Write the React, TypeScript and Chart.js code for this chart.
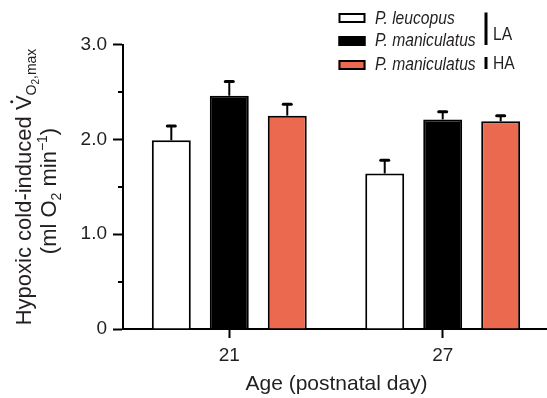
import React, { useEffect, useRef } from 'react';
import { Chart, registerables } from 'chart.js';

Chart.register(...registerables);

// ---- Data ----
const ages = ['21', '27'];
const seriesLabels = ['P. leucopus', 'P. maniculatus', 'P. maniculatus'];
const leucopusLA = [1.99, 1.64];
const maniculatusLA = [2.46, 2.21];
const maniculatusHA = [2.25, 2.19];
const leucopusLAErr = [0.15, 0.14];
const maniculatusLAErr = [0.15, 0.08];
const maniculatusHAErr = [0.12, 0.06];
const yMajorTicks = [0, 1, 2, 3];
const yMinorTicks = [0.5, 1.5, 2.5];

const seriesValues = [leucopusLA, maniculatusLA, maniculatusHA];
const seriesErrors = [leucopusLAErr, maniculatusLAErr, maniculatusHAErr];
const seriesFill = ['#ffffff', '#000000', '#EB6A4F'];

const FONT = '"Liberation Sans", Arial, Helvetica, sans-serif';
const TEXT = '#231F20';

type Piece = { t: string; size: number; dy: number; italic?: boolean; dot?: boolean };

function pieceFont(p: Piece) {
  return `${p.italic ? 'italic ' : ''}${p.size}px ${FONT}`;
}

function drawPieces(ctx: CanvasRenderingContext2D, pieces: Piece[], cx: number, by: number) {
  const widths = pieces.map((p) => {
    ctx.font = pieceFont(p);
    return ctx.measureText(p.t).width;
  });
  const total = widths.reduce((a, b) => a + b, 0);
  let x = cx - total / 2;
  pieces.forEach((p, i) => {
    ctx.font = pieceFont(p);
    ctx.fillText(p.t, x, by + p.dy);
    if (p.dot) {
      ctx.beginPath();
      ctx.arc(x + widths[i] / 2 + 1, by + p.dy - p.size * 0.716 - 3.5, 1.5, 0, Math.PI * 2);
      ctx.fill();
    }
    x += widths[i];
  });
}

const extras = {
  id: 'extras',
  afterDatasetsDraw(chart: any) {
    const { ctx } = chart;
    const y = chart.scales.y;
    ctx.save();
    ctx.strokeStyle = '#000';
    seriesValues.forEach((vals, di) => {
      const meta = chart.getDatasetMeta(di);
      meta.data.forEach((bar: any, i: number) => {
        const v = vals[i];
        const e = seriesErrors[di][i];
        const yBar = y.getPixelForValue(v);
        const yTop = y.getPixelForValue(v + e);
        ctx.lineWidth = 2;
        ctx.lineCap = 'butt';
        ctx.beginPath();
        ctx.moveTo(bar.x, yBar);
        ctx.lineTo(bar.x, yTop);
        ctx.stroke();
        ctx.lineWidth = 3;
        ctx.lineCap = 'round';
        ctx.beginPath();
        ctx.moveTo(bar.x - 4, yTop);
        ctx.lineTo(bar.x + 4, yTop);
        ctx.stroke();
      });
    });
    ctx.restore();
  },
  afterDraw(chart: any) {
    const { ctx, chartArea } = chart;
    const y = chart.scales.y;
    ctx.save();
    // minor y ticks
    ctx.strokeStyle = '#000';
    ctx.lineWidth = 2;
    yMinorTicks.forEach((v) => {
      const py = Math.round(y.getPixelForValue(v));
      ctx.beginPath();
      ctx.moveTo(chartArea.left - 5, py);
      ctx.lineTo(chartArea.left, py);
      ctx.stroke();
    });

    // x title
    ctx.fillStyle = TEXT;
    ctx.textBaseline = 'alphabetic';
    ctx.textAlign = 'left';
    drawPieces(ctx, [{ t: 'Age (postnatal day)', size: 21, dy: 0 }], 336.5, 390);

    // y title (rotated)
    ctx.save();
    ctx.translate(31, 187);
    ctx.rotate(-Math.PI / 2);
    drawPieces(
      ctx,
      [
        { t: 'Hypoxic cold-induced ', size: 22, dy: 0 },
        { t: 'V', size: 22, dy: 0, dot: true },
        { t: 'O', size: 14, dy: 5 },
        { t: '2', size: 10, dy: 8 },
        { t: ',max', size: 14, dy: 5 },
      ],
      0,
      0
    );
    ctx.restore();
    ctx.save();
    ctx.translate(55.5, 191);
    ctx.rotate(-Math.PI / 2);
    drawPieces(
      ctx,
      [
        { t: '(ml O', size: 22, dy: 0 },
        { t: '2', size: 14, dy: 5 },
        { t: ' min', size: 22, dy: 0 },
        { t: '\u22121', size: 14, dy: -9 },
        { t: ')', size: 22, dy: 0 },
      ],
      0,
      0
    );
    ctx.restore();

    // legend
    const boxTops = [13, 36, 60];
    const baselines = [23.5, 45.5, 69.5];
    seriesLabels.forEach((lab, i) => {
      ctx.fillStyle = seriesFill[i];
      ctx.fillRect(338.5, boxTops[i], 27, 10);
      ctx.strokeStyle = '#000';
      ctx.lineWidth = 2;
      ctx.strokeRect(339.5, boxTops[i] + 1, 25, 8);
      ctx.fillStyle = TEXT;
      ctx.save();
      ctx.translate(375, baselines[i]);
      ctx.scale(0.87, 1);
      ctx.font = `italic 18px ${FONT}`;
      ctx.fillText(lab, 0, 0);
      ctx.restore();
    });
    ctx.strokeStyle = '#000';
    ctx.lineWidth = 3;
    ctx.lineCap = 'butt';
    ctx.beginPath();
    ctx.moveTo(486, 12.5);
    ctx.lineTo(486, 45);
    ctx.moveTo(486, 57);
    ctx.lineTo(486, 69);
    ctx.stroke();
    ctx.fillStyle = TEXT;
    [['LA', 40], ['HA', 68.5]].forEach(([t, by]) => {
      ctx.save();
      ctx.translate(493, by as number);
      ctx.scale(0.87, 1);
      ctx.font = `18px ${FONT}`;
      ctx.fillText(t as string, 0, 0);
      ctx.restore();
    });
    ctx.restore();
  },
};

export default function App() {
  const ref = useRef<HTMLCanvasElement>(null);
  useEffect(() => {
    if (!ref.current) return;
    const chart = new Chart(ref.current, {
      type: 'bar',
      data: {
        datasets: seriesValues.map((vals, di) => ({
          label: seriesLabels[di],
          data: vals.map((v, i) => ({ x: i, y: v })),
          backgroundColor: seriesFill[di],
          borderColor: '#000',
          borderWidth: 2,
          categoryPercentage: 0.815,
          barPercentage: 0.672,
        })),
      } as any,
      options: {
        animation: false,
        responsive: true,
        maintainAspectRatio: false,
        layout: { padding: { top: 44.5, right: 1, left: 0, bottom: 0 } },
        plugins: { legend: { display: false }, tooltip: { enabled: false } },
        scales: {
          x: {
            type: 'linear',
            offset: false,
            min: -0.498,
            max: 1.484,
            afterBuildTicks: (s: any) => {
              s.ticks = ages.map((_, i) => ({ value: i }));
            },
            afterFit: (s: any) => {
              s.height = 69;
            },
            ticks: {
              callback: (_v: any, i: number) => ages[i],
              font: { family: FONT, size: 19 },
              color: TEXT,
              padding: 6,
              maxRotation: 0,
            },
            grid: {
              display: true,
              offset: false,
              drawOnChartArea: false,
              drawTicks: true,
              tickLength: 9,
              tickWidth: 2,
              tickColor: '#000',
            },
            border: { display: true, color: '#000', width: 2 },
          },
          y: {
            type: 'linear',
            min: 0,
            max: 3,
            afterBuildTicks: (s: any) => {
              s.ticks = yMajorTicks.map((v) => ({ value: v }));
            },
            afterFit: (s: any) => {
              s.width = 123;
            },
            ticks: {
              callback: (v: any) => (v === 0 ? '0' : Number(v).toFixed(1)),
              font: { family: FONT, size: 19 },
              color: TEXT,
              padding: 6,
            },
            grid: {
              display: true,
              drawOnChartArea: false,
              drawTicks: true,
              tickLength: 10,
              tickWidth: 2,
              tickColor: '#000',
            },
            border: { display: true, color: '#000', width: 2 },
          },
        },
      } as any,
      plugins: [extras],
    });
    return () => chart.destroy();
  }, []);
  return (
    <div style={{ position: 'fixed', left: 0, top: 0, width: 547, height: 398 }}>
      <canvas ref={ref} />
    </div>
  );
}
